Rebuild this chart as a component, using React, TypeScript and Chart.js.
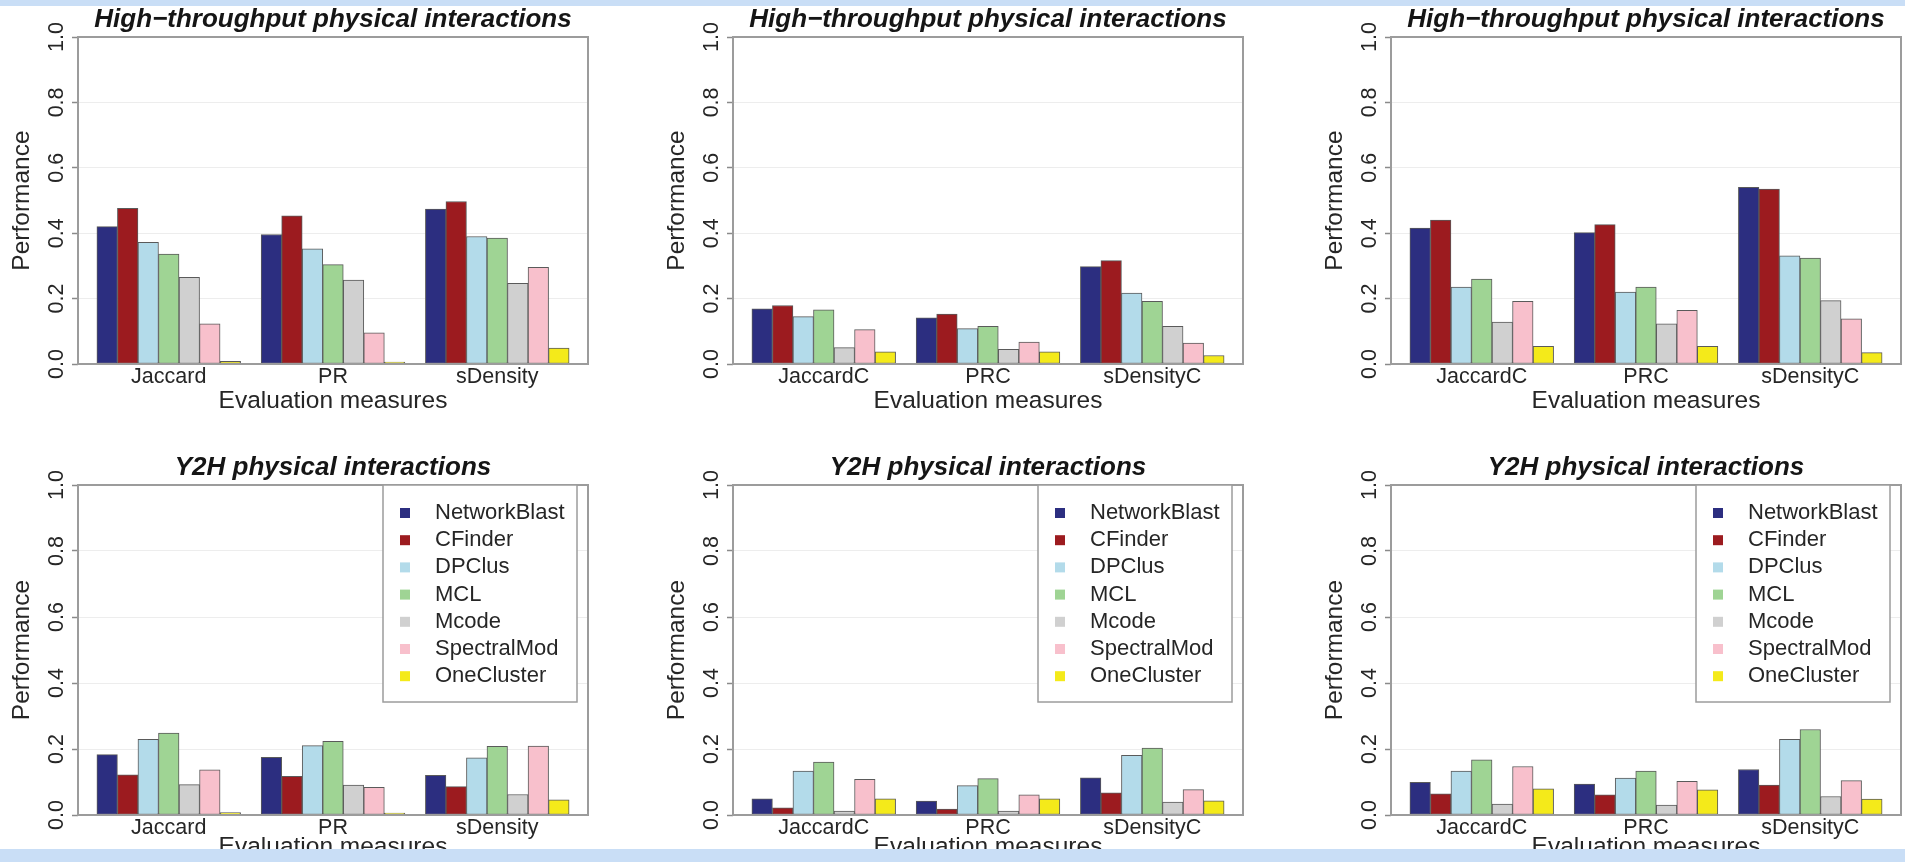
import React, { useEffect, useRef } from 'react';
import { Chart, registerables } from 'chart.js';

Chart.register(...registerables);

const FONT = '"Liberation Sans", Arial, Helvetica, sans-serif';

const SERIES = ['NetworkBlast', 'CFinder', 'DPClus', 'MCL', 'Mcode', 'SpectralMod', 'OneCluster'];
const COLORS = ['#2c2e80', '#9c1b1f', '#b3dbea', '#9fd494', '#d0d0d0', '#f8c0cc', '#f4ea1a'];
const CATS_PLAIN = ['Jaccard', 'PR', 'sDensity'];
const CATS_C = ['JaccardC', 'PRC', 'sDensityC'];
const Y_TICKS = [0, 0.2, 0.4, 0.6, 0.8, 1.0];
const TITLE_HT = 'High−throughput physical interactions';
const TITLE_Y2H = 'Y2H physical interactions';
const X_TITLE = 'Evaluation measures';
const Y_TITLE = 'Performance';

// values[series][category]
const HT_PLAIN = [
  [0.420, 0.396, 0.474],
  [0.476, 0.453, 0.497],
  [0.372, 0.352, 0.390],
  [0.336, 0.304, 0.385],
  [0.265, 0.257, 0.247],
  [0.123, 0.095, 0.296],
  [0.008, 0.006, 0.049],
];
const HT_C1 = [
  [0.169, 0.141, 0.298],
  [0.179, 0.153, 0.316],
  [0.145, 0.108, 0.217],
  [0.166, 0.115, 0.192],
  [0.050, 0.045, 0.115],
  [0.105, 0.067, 0.064],
  [0.037, 0.037, 0.026],
];
const HT_C2 = [
  [0.416, 0.402, 0.540],
  [0.440, 0.426, 0.535],
  [0.235, 0.220, 0.331],
  [0.260, 0.235, 0.324],
  [0.128, 0.123, 0.194],
  [0.192, 0.164, 0.138],
  [0.054, 0.054, 0.035],
];
const Y2H_PLAIN = [
  [0.183, 0.175, 0.120],
  [0.122, 0.117, 0.086],
  [0.229, 0.210, 0.173],
  [0.248, 0.223, 0.208],
  [0.092, 0.091, 0.062],
  [0.137, 0.084, 0.209],
  [0.007, 0.006, 0.046],
];
const Y2H_C1 = [
  [0.049, 0.042, 0.113],
  [0.022, 0.018, 0.067],
  [0.133, 0.089, 0.181],
  [0.160, 0.110, 0.203],
  [0.012, 0.012, 0.039],
  [0.108, 0.061, 0.077],
  [0.049, 0.049, 0.043],
];
const Y2H_C2 = [
  [0.099, 0.094, 0.138],
  [0.064, 0.061, 0.091],
  [0.133, 0.112, 0.229],
  [0.167, 0.133, 0.259],
  [0.033, 0.030, 0.056],
  [0.147, 0.102, 0.104],
  [0.079, 0.076, 0.048],
];

const PANELS = [
  { col: 0, row: 0, title: TITLE_HT, cats: CATS_PLAIN, values: HT_PLAIN, legend: false },
  { col: 1, row: 0, title: TITLE_HT, cats: CATS_C, values: HT_C1, legend: false },
  { col: 2, row: 0, title: TITLE_HT, cats: CATS_C, values: HT_C2, legend: false },
  { col: 0, row: 1, title: TITLE_Y2H, cats: CATS_PLAIN, values: Y2H_PLAIN, legend: true },
  { col: 1, row: 1, title: TITLE_Y2H, cats: CATS_C, values: Y2H_C1, legend: true },
  { col: 2, row: 1, title: TITLE_Y2H, cats: CATS_C, values: Y2H_C2, legend: true },
];

const COL_LEFT = [0, 655, 1313];
const ROW_TOP = [0, 448];
const PLOT_H = [327, 330];
const XTITLE_PAD = [8, 13];
const CANVAS_W = 666;
const CANVAS_H = 448;
const AXIS_W = 78;
const TITLE_BOX = 37;
const XAXIS_H = 60;
const TEXT = '#262626';

const decoPlugin = {
  id: 'panelDeco',
  afterDatasetsDraw(chart: any, _args: any, opts: any) {
    const { ctx, chartArea } = chart;
    ctx.save();
    ctx.strokeStyle = '#9c9c9c';
    ctx.lineWidth = 2;
    ctx.strokeRect(chartArea.left, chartArea.top, chartArea.right - chartArea.left, chartArea.bottom - chartArea.top);
    if (opts && opts.legend) {
      const w = 194;
      const h = 217;
      const right = chartArea.right - 11;
      const left = right - w;
      const top = chartArea.top;
      ctx.fillStyle = '#ffffff';
      ctx.fillRect(left, top, w, h);
      ctx.strokeStyle = '#9c9c9c';
      ctx.lineWidth = 1.5;
      ctx.strokeRect(left, top, w, h);
      ctx.font = `22px ${FONT}`;
      ctx.textBaseline = 'middle';
      ctx.textAlign = 'left';
      chart.data.datasets.forEach((ds: any, i: number) => {
        const cy = top + 28 + i * 27.2;
        ctx.fillStyle = ds.backgroundColor;
        ctx.fillRect(left + 17, cy - 5, 10, 10);
        ctx.fillStyle = TEXT;
        ctx.fillText(ds.label, left + 52, cy);
      });
    }
    ctx.restore();
  },
};

function Panel({ spec }: { spec: any }) {
  const ref = useRef<HTMLCanvasElement>(null);
  useEffect(() => {
    const canvas = ref.current;
    if (!canvas) return;
    const group = SERIES.length + 1;
    const nCat = spec.cats.length;
    const lo = 1;
    const hi = nCat * group;
    const ext = 0.04 * (hi - lo);
    const plotH = PLOT_H[spec.row];
    const padBottom = CANVAS_H - TITLE_BOX - plotH - XAXIS_H;
    const chart = new Chart(canvas, {
      type: 'bar',
      data: {
        datasets: SERIES.map((name, s) => ({
          label: name,
          data: spec.values[s].map((v: number, g: number) => ({ x: g * group + 1.5 + s, y: v })),
          backgroundColor: COLORS[s],
          borderColor: '#5a5a5a',
          borderWidth: 1,
          borderSkipped: false,
          grouped: false,
          barPercentage: 1,
          categoryPercentage: 1,
        })),
      },
      options: {
        responsive: false,
        animation: false,
        devicePixelRatio: 1,
        events: [],
        layout: { padding: { left: 0, top: 0, right: CANVAS_W - AXIS_W - 510, bottom: padBottom } },
        plugins: {
          legend: { display: false },
          tooltip: { enabled: false },
          title: {
            display: true,
            text: spec.title,
            fullSize: false,
            color: '#151515',
            font: { family: FONT, size: 26, weight: 'bold', style: 'italic', lineHeight: 1.2 },
            padding: { top: 4.5, bottom: 1.3 },
          },
          panelDeco: { legend: spec.legend },
        } as any,
        scales: {
          x: {
            type: 'linear',
            min: lo - ext,
            max: hi + ext,
            offset: false,
            grid: { display: false, drawTicks: false },
            border: { display: false },
            afterBuildTicks: (s: any) => {
              s.ticks = spec.cats.map((_: string, g: number) => ({ value: g * group + 1 + (group - 1) / 2 }));
            },
            afterFit: (s: any) => {
              s.height = XAXIS_H;
            },
            ticks: {
              autoSkip: false,
              maxRotation: 0,
              minRotation: 0,
              padding: 0,
              color: TEXT,
              font: { family: FONT, size: 21.5 },
              callback: (_v: any, i: number) => spec.cats[i],
            },
            title: {
              display: true,
              text: X_TITLE,
              color: TEXT,
              font: { family: FONT, size: 24.5, lineHeight: 1.2 },
              padding: { top: 0, bottom: XTITLE_PAD[spec.row] },
            },
          },
          y: {
            type: 'linear',
            min: Y_TICKS[0],
            max: Y_TICKS[Y_TICKS.length - 1],
            afterBuildTicks: (s: any) => {
              s.ticks = Y_TICKS.map((v) => ({ value: v }));
            },
            afterFit: (s: any) => {
              s.width = AXIS_W;
            },
            grid: { color: '#ededed', lineWidth: 1, drawTicks: true, tickLength: 6, tickColor: '#8a8a8a', tickWidth: 1.5 },
            border: { display: false },
            ticks: {
              minRotation: 90,
              maxRotation: 90,
              crossAlign: 'center',
              padding: 0,
              color: TEXT,
              font: { family: FONT, size: 21.5 },
              callback: (v: any) => Number(v).toFixed(1),
            },
            title: {
              display: true,
              text: Y_TITLE,
              color: TEXT,
              font: { family: FONT, size: 24.5, lineHeight: 1.2 },
              padding: { top: 8, bottom: 0 },
            },
          },
        },
      } as any,
      plugins: [decoPlugin as any],
    });
    return () => chart.destroy();
  }, [spec]);
  return (
    <canvas
      ref={ref}
      width={CANVAS_W}
      height={CANVAS_H}
      style={{
        position: 'absolute',
        left: COL_LEFT[spec.col],
        top: ROW_TOP[spec.row],
        width: CANVAS_W,
        height: CANVAS_H,
      }}
    />
  );
}

export default function App() {
  return (
    <div
      style={{
        position: 'absolute',
        left: 0,
        top: 0,
        width: 1905,
        height: 862,
        overflow: 'hidden',
        background: '#ffffff',
      }}
    >
      {PANELS.map((p, i) => (
        <Panel key={i} spec={p} />
      ))}
      <div style={{ position: 'absolute', left: 0, top: 0, width: 1905, height: 6, background: '#c9def6', zIndex: 5 }} />
      <div style={{ position: 'absolute', left: 0, top: 849, width: 1905, height: 13, background: '#c9def6', zIndex: 5 }} />
    </div>
  );
}
